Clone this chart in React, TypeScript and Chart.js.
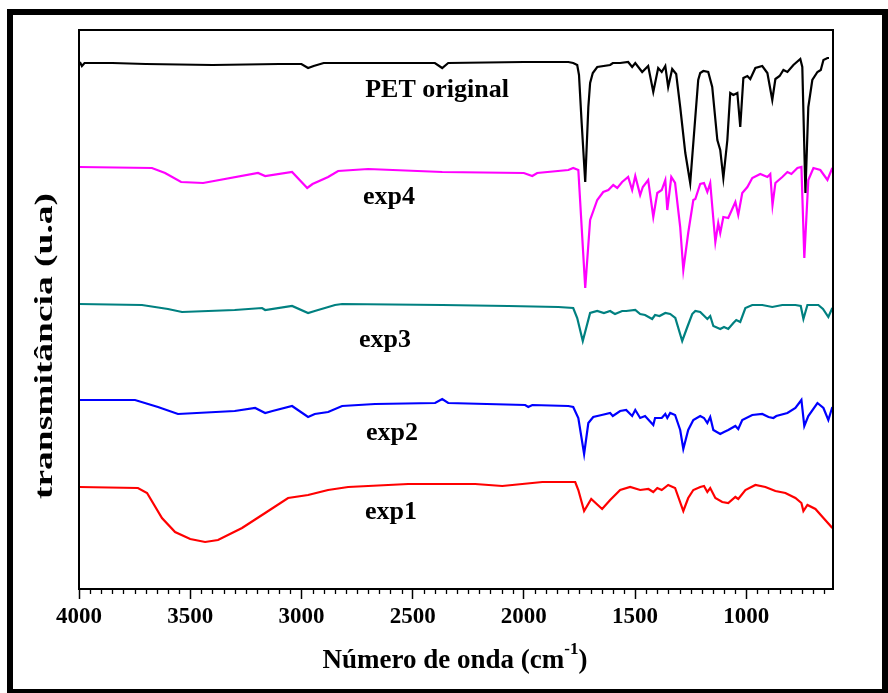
import React, { useEffect, useRef } from 'react';
import { Chart, registerables } from 'chart.js';

Chart.register(...registerables);

// ---------- data (wavenumber cm-1, transmittance in arbitrary units) ----------
const PET_WN = [3996, 3987, 3975, 3850, 3700, 3400, 3100, 3000, 2970, 2945, 2900, 2600, 2400, 2367, 2340, 2000, 1800, 1778, 1760, 1752, 1740, 1724, 1710, 1702, 1690, 1670, 1612, 1600, 1567, 1531, 1513, 1499, 1468, 1441, 1418, 1396, 1380, 1364, 1351, 1333, 1315, 1297, 1274, 1252, 1229, 1216, 1207, 1193, 1171, 1153, 1130, 1117, 1103, 1085, 1072, 1058, 1040, 1027, 1013, 995, 982, 959, 928, 905, 883, 869, 850, 833, 815, 788, 757, 748, 734, 721, 703, 680, 665, 653, 635, 628];
const PET_T = [527, 523, 526, 526, 525, 524, 525, 525, 521, 523, 526, 526, 526, 521, 526, 527, 527, 526, 524, 514, 466, 407, 482, 506, 516, 522, 524, 526, 526, 527, 522, 526, 517, 523, 497, 521, 517, 523, 502, 520, 515, 482, 436, 406, 472, 509, 516, 518, 517, 502, 449, 439, 411, 449, 496, 494, 496, 462, 511, 513, 510, 521, 523, 516, 489, 510, 513, 519, 517, 524, 530, 522, 396, 482, 509, 517, 519, 529, 531, 531];

const EXP4_WN = [4000, 3672, 3613, 3541, 3442, 3195, 3163, 3042, 2974, 2950, 2880, 2835, 2700, 2367, 2000, 1962, 1940, 1800, 1778, 1755, 1724, 1702, 1670, 1643, 1620, 1598, 1580, 1558, 1531, 1513, 1499, 1477, 1465, 1441, 1418, 1400, 1380, 1364, 1355, 1337, 1320, 1297, 1283, 1261, 1238, 1229, 1207, 1190, 1175, 1162, 1139, 1126, 1117, 1103, 1081, 1049, 1036, 1018, 995, 973, 937, 905, 892, 882, 869, 838, 815, 797, 770, 752, 739, 721, 698, 667, 635, 613];
const EXP4_T = [422, 421, 416, 407, 406, 416, 413, 417, 401, 405, 412, 418, 420, 417, 416, 413, 416, 419, 421, 419, 301, 369, 389, 397, 399, 404, 401, 407, 412, 399, 413, 394, 402, 409, 372, 396, 399, 409, 379, 412, 406, 362, 319, 356, 389, 390, 405, 406, 397, 406, 347, 366, 356, 372, 371, 387, 374, 396, 402, 411, 415, 412, 415, 384, 406, 412, 417, 415, 421, 422, 331, 409, 421, 419, 409, 421];

const EXP3_WN = [4000, 3717, 3600, 3537, 3300, 3177, 3163, 3042, 2970, 2940, 2849, 2817, 2367, 2070, 1845, 1778, 1760, 1735, 1702, 1670, 1640, 1612, 1598, 1590, 1558, 1540, 1499, 1477, 1455, 1423, 1410, 1390, 1364, 1342, 1319, 1288, 1265, 1243, 1229, 1207, 1175, 1162, 1148, 1117, 1100, 1081, 1058, 1045, 1027, 1004, 973, 928, 883, 838, 779, 755, 743, 725, 676, 655, 631, 613];
const EXP3_T = [285, 284, 280, 277, 279, 281, 279, 283, 276, 278, 284, 285, 284, 283, 282, 281, 271, 248, 276, 278, 276, 278, 276, 275, 278, 278, 279, 275, 274, 270, 274, 273, 276, 275, 271, 248, 262, 275, 278, 277, 270, 273, 263, 260, 262, 260, 266, 269, 267, 281, 284, 284, 282, 284, 284, 283, 270, 284, 284, 280, 272, 281];

const EXP2_WN = [4000, 3748, 3645, 3555, 3300, 3208, 3163, 3130, 3042, 2970, 2940, 2880, 2817, 2669, 2399, 2367, 2340, 1994, 1980, 1962, 1800, 1778, 1755, 1729, 1710, 1688, 1650, 1612, 1600, 1567, 1540, 1513, 1499, 1477, 1455, 1418, 1410, 1380, 1364, 1355, 1342, 1320, 1297, 1283, 1261, 1238, 1207, 1190, 1175, 1162, 1148, 1117, 1100, 1081, 1049, 1036, 1018, 973, 928, 900, 878, 865, 815, 779, 752, 739, 721, 680, 653, 631, 613];
const EXP2_T = [189, 189, 182, 175, 178, 181, 176, 178, 183, 172, 175, 177, 183, 185, 186, 190, 186, 184, 182, 184, 183, 182, 171, 135, 166, 172, 174, 176, 173, 178, 179, 173, 179, 171, 173, 164, 171, 171, 175, 171, 176, 174, 159, 140, 159, 169, 173, 171, 166, 172, 159, 155, 157, 159, 163, 160, 169, 174, 175, 172, 171, 173, 176, 181, 189, 163, 173, 186, 181, 169, 182];

const EXP1_WN = [4000, 3735, 3694, 3627, 3568, 3500, 3433, 3375, 3267, 3163, 3060, 2970, 2880, 2790, 2520, 2219, 2097, 1917, 1769, 1755, 1729, 1697, 1648, 1612, 1567, 1522, 1477, 1440, 1418, 1400, 1380, 1351, 1320, 1283, 1261, 1238, 1207, 1190, 1175, 1162, 1139, 1108, 1081, 1049, 1036, 1004, 959, 914, 869, 824, 779, 752, 743, 725, 689, 653, 613];
const EXP1_T = [102, 101, 96, 71, 57, 50, 47, 49, 61, 76, 91, 94, 99, 102, 105, 105, 103, 107, 107, 99, 78, 90, 80, 89, 99, 102, 99, 100, 97, 101, 99, 104, 101, 78, 91, 99, 102, 103, 97, 101, 91, 87, 86, 92, 90, 99, 104, 102, 98, 96, 91, 86, 78, 84, 80, 71, 61];

const X_TICKS = [4000, 3500, 3000, 2500, 2000, 1500, 1000];
const SERIES_NAMES = ['PET original', 'exp4', 'exp3', 'exp2', 'exp1'];
const SERIES_COLORS = ['#000000', '#ff00ff', '#008080', '#0000ff', '#ff0000'];
// label anchors in data units (wavenumber, transmittance)
const LABEL_WN = [2390, 2606, 2624, 2593, 2597];
const LABEL_T = [492, 385, 242, 149, 70];

const X_MIN = 610;
const X_MAX = 4000;
const Y_MIN = 0;
const Y_MAX = 559;

const SERIF = '"Liberation Serif", "Times New Roman", serif';

const decorPlugin = {
  id: 'decor',
  afterDraw(chart: any) {
    const { ctx, chartArea } = chart;
    const xs = chart.scales.x;
    const ys = chart.scales.y;
    ctx.save();
    // outer thick frame
    ctx.strokeStyle = '#000';
    ctx.lineWidth = 6;
    ctx.strokeRect(10, 12, 875, 680);
    // plot frame
    ctx.lineWidth = 2;
    ctx.strokeRect(chartArea.left, chartArea.top, chartArea.right - chartArea.left, chartArea.bottom - chartArea.top);
    // minor ticks
    ctx.lineWidth = 1.3;
    ctx.beginPath();
    for (let v = 650; v <= X_MAX; v += 50) {
      if (v % 500 === 0) continue;
      const px = Math.round(xs.getPixelForValue(v)) + 0.5;
      ctx.moveTo(px, chartArea.bottom);
      ctx.lineTo(px, chartArea.bottom + 5);
    }
    ctx.stroke();
    // series labels
    ctx.fillStyle = '#000';
    ctx.font = `bold 26px ${SERIF}`;
    ctx.textAlign = 'center';
    ctx.textBaseline = 'alphabetic';
    SERIES_NAMES.forEach((name, i) => {
      ctx.fillText(name, xs.getPixelForValue(LABEL_WN[i]), ys.getPixelForValue(LABEL_T[i]));
    });
    // x title with superscript
    const main = 'Número de onda (cm';
    const sup = '-1';
    const close = ')';
    ctx.font = `bold 27px ${SERIF}`;
    const wMain = ctx.measureText(main).width;
    const wClose = ctx.measureText(close).width;
    ctx.font = `bold 17px ${SERIF}`;
    const wSup = ctx.measureText(sup).width;
    const total = wMain + wSup + wClose;
    let cx = 455 - total / 2;
    const base = 668;
    ctx.textAlign = 'left';
    ctx.font = `bold 27px ${SERIF}`;
    ctx.fillText(main, cx, base);
    cx += wMain;
    ctx.font = `bold 17px ${SERIF}`;
    ctx.fillText(sup, cx, base - 14);
    cx += wSup;
    ctx.font = `bold 27px ${SERIF}`;
    ctx.fillText(close, cx, base);
    // y title (stretched along its length like the original)
    const yt = 'transmitância (u.a)';
    ctx.font = `bold 26px ${SERIF}`;
    const wy = ctx.measureText(yt).width;
    ctx.translate(45, 346);
    ctx.rotate(-Math.PI / 2);
    ctx.scale(306 / wy, 1);
    ctx.textAlign = 'center';
    ctx.textBaseline = 'middle';
    ctx.fillText(yt, 0, 0);
    ctx.restore();
  },
};

export default function App() {
  const ref = useRef<HTMLCanvasElement>(null);
  useEffect(() => {
    document.body.style.margin = '0';
    const pts = (wn: number[], t: number[]) => wn.map((w, i) => ({ x: w, y: t[i] }));
    const sets = [
      pts(PET_WN, PET_T),
      pts(EXP4_WN, EXP4_T),
      pts(EXP3_WN, EXP3_T),
      pts(EXP2_WN, EXP2_T),
      pts(EXP1_WN, EXP1_T),
    ];
    const chart = new Chart(ref.current!, {
      type: 'line',
      data: {
        datasets: sets.map((d, i) => ({
          label: SERIES_NAMES[i],
          data: d,
          borderColor: SERIES_COLORS[i],
          backgroundColor: SERIES_COLORS[i],
          borderWidth: 2.2,
          pointRadius: 0,
          tension: 0,
          fill: false,
        })),
      },
      options: {
        responsive: false,
        animation: false,
        devicePixelRatio: 1,
        layout: { padding: { left: 79, right: 55, top: 30, bottom: 54 } },
        plugins: { legend: { display: false }, tooltip: { enabled: false }, title: { display: false } },
        scales: {
          x: {
            type: 'linear',
            reverse: true,
            min: X_MIN,
            max: X_MAX,
            afterBuildTicks: (s: any) => {
              s.ticks = X_TICKS.map((v) => ({ value: v }));
            },
            afterFit: (s: any) => {
              s.height = 50;
            },
            grid: { drawOnChartArea: false, drawTicks: true, tickLength: 10, tickWidth: 1.5, tickColor: '#000' },
            border: { display: false },
            ticks: {
              color: '#000',
              padding: 4,
              maxRotation: 0,
              autoSkip: false,
              font: { family: SERIF, weight: 'bold', size: 23 },
              callback: (v: any) => String(v),
            },
          },
          y: { display: false, min: Y_MIN, max: Y_MAX },
        },
      } as any,
      plugins: [decorPlugin],
    });
    return () => chart.destroy();
  }, []);
  return <canvas ref={ref} width={888} height={693} style={{ display: 'block' }} />;
}
